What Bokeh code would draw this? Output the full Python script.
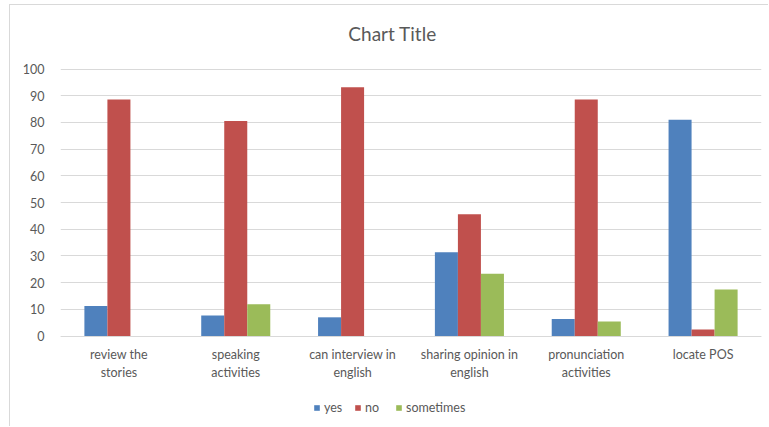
from bokeh.plotting import figure
from bokeh.models import ColumnDataSource, FactorRange, Range1d, Legend, LegendItem, FixedTicker, Label
from bokeh.transform import dodge
from bokeh.embed import file_html
from bokeh.resources import INLINE

# survey answers per activity (percent)
categories = [
    "review the\nstories",
    "speaking\nactivities",
    "can interview in\nenglish",
    "sharing opinion in\nenglish",
    "pronunciation\nactivities",
    "locate POS",
]
yes = [11.2, 7.7, 7.0, 31.4, 6.4, 81.0]
no = [88.6, 80.5, 93.2, 45.6, 88.6, 2.4]
sometimes = [0, 11.9, 0, 23.3, 5.4, 17.4]
y_ticks = list(range(0, 101, 10))

series_names = ["yes", "no", "sometimes"]
series_colors = ["#4f81bd", "#c0504d", "#9bbb59"]

source = ColumnDataSource(dict(cat=categories, yes=yes, no=no, sometimes=sometimes))

FONT = "Lato"
GREY = "#595959"

# the frame fills the chart area top to bottom; the title, category labels
# and legend are placed inside it, above 100 and below the zero line
p = figure(
    x_range=FactorRange(*categories, range_padding=0),
    y_range=Range1d(-34.27, 123.8),
    width=759, height=422,
    output_backend="svg", toolbar_location=None,
    min_border_left=50, min_border_right=8, min_border_top=0, min_border_bottom=0,
)
# chart area frame: thin grey border on the top and left edges
p.styles = {
    "margin-left": "9px", "margin-top": "4px",
    "border-left": "1px solid #d9d9d9", "border-top": "1px solid #d9d9d9",
}

title = Label(x=2.842, y=113.3, text="Chart Title", text_align="center",
              text_baseline="middle", text_font=FONT, text_font_size="19px",
              text_color=GREY)
p.add_layout(title)

bar_w = 0.197
offsets = [-bar_w, 0.0, bar_w]
items = []
for name, color, off in zip(series_names, series_colors, offsets):
    r = p.vbar(x=dodge("cat", off, range=p.x_range), top=name, width=bar_w,
               source=source, fill_color=color, line_color=None)
    items.append(LegendItem(label=name, renderers=[r]))

p.outline_line_color = None
p.xgrid.grid_line_color = None
p.ygrid.grid_line_color = "#d9d9d9"
p.ygrid.ticker = FixedTicker(ticks=y_ticks)

p.yaxis.ticker = FixedTicker(ticks=y_ticks)
p.yaxis.axis_line_color = None
p.yaxis.major_tick_line_color = None
p.yaxis.minor_tick_line_color = None
p.yaxis.major_label_text_color = GREY
p.yaxis.major_label_text_font = FONT
p.yaxis.major_label_text_font_size = "12.5px"
p.yaxis.major_label_standoff = 10

p.xaxis.fixed_location = 0
p.xaxis.axis_line_color = "#d9d9d9"
p.xaxis.major_tick_line_color = None
p.xaxis.minor_tick_line_color = None
p.xaxis.major_label_text_color = GREY
p.xaxis.major_label_text_font = FONT
p.xaxis.major_label_text_font_size = "12.5px"
p.xaxis.major_label_standoff = 5

# legend under the category labels, positioned relative to the frame
legend = Legend(items=items, orientation="horizontal", location=(253, 12))
legend.label_text_font = FONT
legend.label_text_font_size = "12.5px"
legend.label_text_color = GREY
legend.glyph_width = 7
legend.glyph_height = 7
legend.spacing = 10
legend.label_standoff = 4
legend.border_line_color = None
legend.background_fill_alpha = 0
legend.padding = 4
legend.margin = 0
p.add_layout(legend, "center")

with open("out.html", "w") as f:
    f.write(file_html(p, INLINE))
